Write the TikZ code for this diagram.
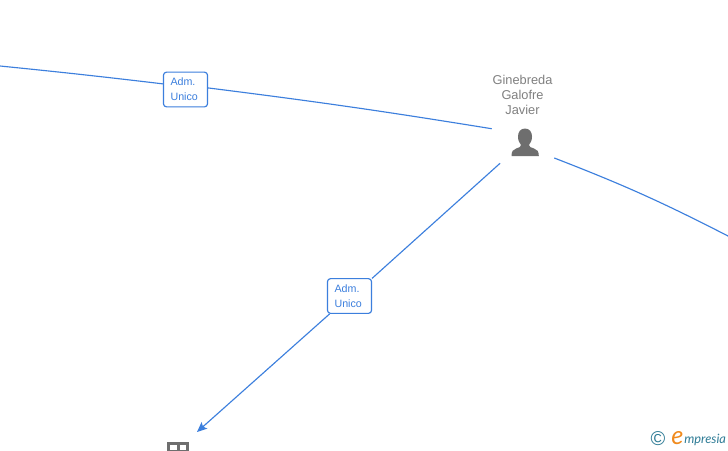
\documentclass[tikz,border=0pt]{standalone}
\usepackage{fontspec}
\setmainfont{Liberation Sans}
\newfontfamily\logofont{Lato}
\usetikzlibrary{arrows.meta}
\definecolor{linkblue}{HTML}{3C7FDD}
\definecolor{icongrey}{HTML}{6E6E6E}
\definecolor{textgrey}{HTML}{808080}
\definecolor{logoteal}{HTML}{2F7C96}
\definecolor{logoorange}{HTML}{F08A1D}
\tikzset{
  link/.style={draw=linkblue,line width=0.85pt},
  rolebox/.style={draw=linkblue,fill=white,line width=0.85pt,rounded corners=2.2pt,
    minimum width=33pt,minimum height=26pt,inner sep=0pt,text=linkblue,
    font=\fontsize{8pt}{11pt}\selectfont},
  roletext/.style={align=left,text width=22.4pt},
  nametext/.style={text=textgrey,align=center,inner sep=0pt,
    font=\fontsize{9.6pt}{11.2pt}\selectfont},
  anchorbox/.style={draw=none,minimum width=46.5pt,minimum height=25.5pt,inner sep=0pt},
  logotext/.style={inner sep=0pt,anchor=base west}
}
\begin{document}
\begin{tikzpicture}[x=0.75pt,y=-0.75pt]
\useasboundingbox (0,0) rectangle (728,450);
\clip (0,0) rectangle (728,450);
\fill[white] (0,0) rectangle (728,450);
% named nodes
\node[anchorbox] (person) at (523,146) {};
\node[rolebox,roletext] (roleA) at (185.5,89.5) {Adm.\\Unico};
\node[rolebox,roletext] (roleB) at (349.5,296) {Adm.\\Unico};
\node[nametext] (name) at (522.5,95) {Ginebreda\\Galofre\\Javier};
\coordinate (leftEnd) at (0,66);
\coordinate (rightEnd) at (728,236);
\coordinate (arrowEnd) at (197,432);
% connectors
\draw[link] (leftEnd) to[bend left=0.5] (roleA.166);
\draw[link] (roleA.4) to[bend left=1] (person.north west);
\draw[link] (person.-21.2) to[bend left=3] (rightEnd);
\draw[link] (person.217.7) -- (roleB.38);
\draw[link,-{Stealth[length=7.5pt,width=6.5pt,inset=1.5pt]}] (roleB.222) -- (arrowEnd);
% person icon
\fill[icongrey] (525,128.5) .. controls (529.5,128.5) and (532,132) .. (532,136.5)
  .. controls (532,140.5) and (530.5,143) .. (529,145)
  .. controls (529,147) and (531,147.5) .. (534,148.5)
  .. controls (537,149.5) and (538.8,151) .. (538.8,156)
  -- (511.5,156)
  .. controls (511.5,151) and (513.2,149.5) .. (516.2,148.5)
  .. controls (519.2,147.5) and (521,147) .. (521,145)
  .. controls (519.5,143) and (518,140.5) .. (518,136.5)
  .. controls (518,132) and (520.5,128.5) .. (525,128.5) -- cycle;
% building icon (cut by the lower edge)
\fill[icongrey] (166.5,441.5) rectangle (189,452);
\fill[white] (170,445) rectangle (176.5,450);
\fill[white] (180,445) rectangle (185.7,450);
% logo
\node[text=logoteal,inner sep=0pt,font=\fontsize{15pt}{16pt}\selectfont] (copy) at (658,439) {©};
\node[logotext,text=logoorange,font=\logofont\itshape\fontsize{19pt}{19pt}\selectfont] (logoe) at (671,444) {e};
\node[logotext,text=logoteal,font=\logofont\itshape\fontsize{9.6pt}{10pt}\selectfont] (logorest) at (684,443.5) {mpresia};
\end{tikzpicture}
\end{document}
